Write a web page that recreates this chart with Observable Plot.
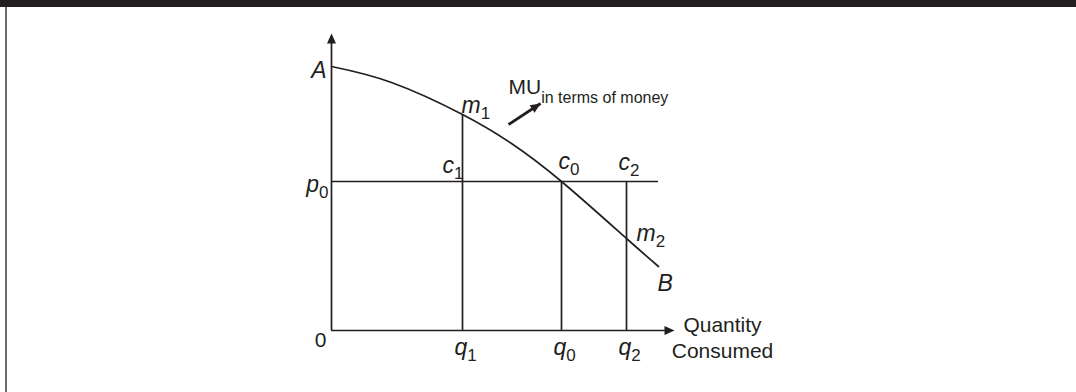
<!DOCTYPE html>
<html><head><meta charset="utf-8">
<script src="https://cdn.jsdelivr.net/npm/d3@7"></script>
<script src="https://cdn.jsdelivr.net/npm/@observablehq/plot@0.6"></script>
<style>
html,body{margin:0;padding:0;background:#fff;width:1076px;height:392px;overflow:hidden;}
#chart{position:absolute;left:0;top:0;}
#bar{position:absolute;left:0;top:0;width:1076px;height:7px;background:#231f20;}
#edge{position:absolute;left:5px;top:7px;width:2px;height:385px;background:#6d6e71;}
</style></head><body>
<div id="chart"></div><div id="bar"></div><div id="edge"></div>
<script>
// ---- Data ----
// Marginal utility (in terms of money) curve, A -> B
const muQuantity = [0, 6, 13.1, 18, 23.0, 29.5, 32.7];
const muValue    = [26.4, 24.8, 21.6, 18.7, 14.9, 9.2, 6.4];
const curveTitle = "MU_in terms of money";
const endLabels = ["A", "B"];

// Price line
const priceValue = 14.9;
const priceLabel = "p_0";
const priceLineEnd = 32.7;

// Quantities
const qLabels = ["q_1", "q_0", "q_2"];
const qValues = [13.1, 23.0, 29.5];
const qTops   = [21.6, 14.9, 14.9];   // q1 up to m1, q0 up to c0, q2 up to c2

// Points on the curve
const mLabels = ["m_1", "m_2"];
const mQuantity = [13.1, 29.5];
const mValue = [21.6, 9.2];

// Points on the price line
const cLabels = ["c_1", "c_0", "c_2"];

// Axes
const xAxisTitle = "Quantity\nConsumed";
const originLabel = "0";
const xMax = 34.3, yMax = 29.7;

// Annotation arrow for the curve title (tail -> tip)
const muArrowQ = [17.7, 20.9];
const muArrowV = [20.6, 22.7];

// ---- Build tables ----
const curve = muQuantity.map((q, i) => ({q, v: muValue[i]}));
const qLines = qValues.map((q, i) => ({q, top: qTops[i], label: qLabels[i]}));
const mPts = mLabels.map((label, i) => ({q: mQuantity[i], v: mValue[i], label}));
const cPts = cLabels.map((label, i) => ({q: qValues[i], v: priceValue, label}));

const ink = "#231f20";
const font = "'Liberation Sans', Arial, Helvetica, sans-serif";
const head = {draw(ctx) { ctx.moveTo(0, 0); ctx.lineTo(-4.5, 10); ctx.lineTo(4.5, 10); ctx.closePath(); }};

const txt = (data, opts) => Plot.text(data, {lineAnchor: "bottom", fontSize: 21, fill: ink, ...opts});
const ital = (data, opts) => txt(data, {fontSize: 23, fontStyle: "italic", ...opts});

const svg = Plot.plot({
  width: 1076, height: 392, margin: 0,
  x: {domain: [0, xMax], range: [331, 674], axis: null},
  y: {domain: [0, yMax], range: [330, 33], axis: null},
  style: {fontFamily: font, background: "transparent", overflow: "visible"},
  marks: [
    // axes
    Plot.ruleX([0], {y1: 0, y2: yMax - 0.3, stroke: ink, strokeWidth: 1.7}),
    Plot.ruleY([0], {x1: 0, x2: xMax - 0.3, stroke: ink, strokeWidth: 1.7}),
    Plot.dot([[0, yMax]], {x: d => d[0], y: d => d[1], symbol: head, fill: ink, stroke: null, rotate: 0}),
    Plot.dot([[xMax, 0]], {x: d => d[0], y: d => d[1], symbol: head, fill: ink, stroke: null, rotate: 90}),
    // price line
    Plot.ruleY([priceValue], {x1: 0, x2: priceLineEnd, stroke: ink, strokeWidth: 1.7}),
    // quantity verticals
    Plot.ruleX(qLines, {x: "q", y1: 0, y2: "top", stroke: ink, strokeWidth: 1.7}),
    // MU curve
    Plot.line(curve, {x: "q", y: "v", curve: "natural", stroke: ink, strokeWidth: 1.7}),
    // annotation arrow
    Plot.link([0], {x1: muArrowQ[0], y1: muArrowV[0], x2: muArrowQ[1], y2: muArrowV[1], stroke: ink, strokeWidth: 2.8}),
    Plot.dot([[muArrowQ[1], muArrowV[1]]], {x: d => d[0], y: d => d[1], symbol: head, fill: ink, stroke: null, rotate: 57}),
    // labels
    ital([endLabels[0]], {x: 0, y: muValue[0], text: d => d, textAnchor: "end", dx: -5, dy: 11}),
    ital([endLabels[1]], {x: muQuantity[muQuantity.length - 1], y: muValue[muValue.length - 1], text: d => d, textAnchor: "start", dx: -1, dy: 24}),
    ital([priceLabel], {x: 0, y: priceValue, text: d => d, textAnchor: "end", dx: -3, dy: 10}),
    ital([mPts[0]], {x: "q", y: "v", text: "label", textAnchor: "start", dx: -1, dy: -2}),
    ital([mPts[1]], {x: "q", y: "v", text: "label", textAnchor: "start", dx: 10, dy: 2}),
    ital([cPts[0]], {x: "q", y: "v", text: "label", textAnchor: "end", dx: 1, dy: -9}),
    ital([cPts[1]], {x: "q", y: "v", text: "label", textAnchor: "start", dx: -3, dy: -13}),
    ital([cPts[2]], {x: "q", y: "v", text: "label", textAnchor: "start", dx: -8, dy: -12}),
    ital(qLines, {x: "q", y: 0, text: "label", textAnchor: "middle", dx: 3, dy: 24}),
    txt([originLabel], {x: 0, y: 0, text: d => d, textAnchor: "end", dx: -5, dy: 16}),
    txt([xAxisTitle], {x: xMax, y: 0, text: d => d, textAnchor: "middle", dx: 48, dy: 27, lineHeight: 1.2}),
    txt([curveTitle], {x: muArrowQ[1], y: muArrowV[1], text: d => d, textAnchor: "start", dx: -32, dy: -10})
  ]
});

// turn "base_sub" texts into base + subscript
d3.select(svg).selectAll("text").each(function() {
  const s = this.textContent;
  const i = s.indexOf("_");
  if (i < 0 || this.querySelector("tspan")) return;
  const base = s.slice(0, i), sub = s.slice(i + 1);
  const isTitle = base === "MU";
  const el = d3.select(this);
  el.text(null);
  el.append("tspan").text(base);
  el.append("tspan")
    .attr("dy", isTitle ? 9 : 6)
    .attr("font-size", isTitle ? 16 : 17)
    .attr("font-style", "normal")
    .text(sub);
});

document.getElementById("chart").appendChild(svg);
</script>
</body></html>
